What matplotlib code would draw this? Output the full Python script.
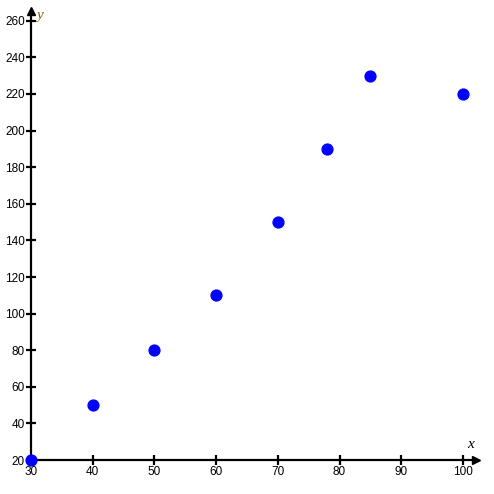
import matplotlib
matplotlib.use("Agg")
import matplotlib.pyplot as plt

# data
x_vals = [30, 40, 50, 60, 70, 78, 85, 100]
y_vals = [20, 50, 80, 110, 150, 190, 230, 220]
x_ticks = [30, 40, 50, 60, 70, 80, 90, 100]
y_ticks = [20, 40, 60, 80, 100, 120, 140, 160, 180, 200, 220, 240, 260]

W = 494
x0, x1, y0, y1 = 31, 476, 460, 11
fig = plt.figure(figsize=(W / 100, W / 100), dpi=100)
ax = fig.add_axes([x0 / W, (W - y0) / W, (x1 - x0) / W, (y0 - y1) / W])
ax.set_xlim(30, 30 + (x1 - x0) / 6.171)
ax.set_ylim(20, 20 + (y0 - y1) / 1.83)

for s in ["top", "right"]:
    ax.spines[s].set_visible(False)
for s in ["left", "bottom"]:
    ax.spines[s].set_linewidth(1.6)
    ax.spines[s].set_color("black")

ax.set_xticks(x_ticks)
ax.set_yticks(y_ticks)
ax.tick_params(direction="inout", length=7, width=1.6, labelsize=8.5, pad=1)
for lab in ax.get_xticklabels() + ax.get_yticklabels():
    lab.set_family("Liberation Sans")

# arrow heads
ax.plot(1, 0, ">", color="black", markersize=6, transform=ax.transAxes, clip_on=False)
ax.plot(0, 1, "^", color="black", markersize=6, transform=ax.transAxes, clip_on=False)

ax.text(0.988, 0.035, "x", transform=ax.transAxes, fontsize=11, style="italic",
        family="Liberation Serif", ha="center", va="center")
ax.text(0.02, 0.99, "y", transform=ax.transAxes, fontsize=11, style="italic",
        family="Liberation Serif", ha="center", va="center", color="#8a5a00")

ax.plot(x_vals, y_vals, "o", color="#0000ff", markersize=7.8, clip_on=False, zorder=5)

fig.savefig("out.png", dpi=100)
